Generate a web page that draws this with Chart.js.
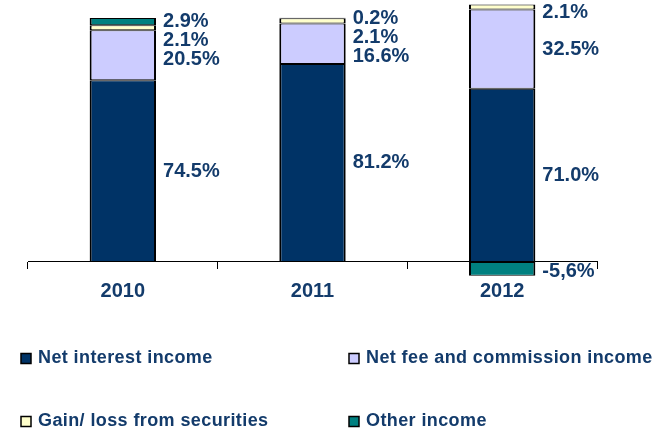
<!DOCTYPE html>
<html>
<head>
<meta charset="utf-8">
<script src="https://cdn.jsdelivr.net/npm/chart.js@4.4.1/dist/chart.umd.min.js"></script>
<style>
    html, body { margin: 0; padding: 0; background: #ffffff; }
    #grafico_receitas { display: block; }
</style>
</head>
<body>
<canvas id="grafico_receitas" width="668" height="431"></canvas>
<script>
// receitas por ano, em % do total
var anos = ["2010", "2011", "2012"];
var jurosLiquidos = [74.5, 81.2, 71.0];
var comissoes = [20.5, 16.6, 32.5];
var ganhoTitulos = [2.1, 2.1, 2.1];
var outrasReceitas = [2.9, 0.2, -5.6];

var nomesSeries = ["Net interest income", "Net fee and commission income", "Gain/ loss from securities", "Other income"];
var coresSeries = ["#003366", "#CCCCFF", "#FFFFCC", "#008080"];
var corTexto = "#133b6b";
var fonte = '"Liberation Sans", Arial, sans-serif';

function formataValor(v) {
    var txt = v.toFixed(1) + "%";
    // negativos aparecem com virgula decimal
    if (v < 0) txt = txt.replace(".", ",");
    return txt;
}

// rotulos a direita de cada barra, empurrados para baixo quando encostam
var rotulosPlugin = {
    id: 'rotulos',
    afterDatasetsDraw: function (chart) {
        var ctx = chart.ctx;
        ctx.save();
        ctx.font = "bold 20px " + fonte;
        ctx.fillStyle = corTexto;
        ctx.textAlign = "left";
        ctx.textBaseline = "middle";

        for (var j = 0; j < anos.length; j++) {
            var positivos = [];
            chart.data.datasets.forEach(function (ds, i) {
                var barra = chart.getDatasetMeta(i).data[j];
                var v = ds.data[j];
                var item = { x: barra.x + barra.width / 2 + 7, y: (barra.y + barra.base) / 2, v: v };
                if (v >= 0) {
                    positivos.push(item);
                } else {
                    ctx.fillText(formataValor(v), item.x, item.y + 3);
                }
            });
            positivos.sort(function (a, b) { return a.y - b.y; });
            var ultimo = -100;
            positivos.forEach(function (p) {
                p.y = Math.max(p.y, ultimo + 19, 12);
                ultimo = p.y;
                ctx.fillText(formataValor(p.v), p.x, p.y);
            });
        }
        ctx.restore();
    }
};

// legenda em duas colunas embaixo do grafico
var legendaPlugin = {
    id: 'legenda2col',
    afterDraw: function (chart) {
        var ctx = chart.ctx;
        var colunas = [21, 349];
        var linhas = [358.5, 421.5];
        ctx.save();
        ctx.font = "bold 18px " + fonte;
        ctx.letterSpacing = "0.4px";
        ctx.textAlign = "left";
        ctx.textBaseline = "middle";
        for (var i = 0; i < nomesSeries.length; i++) {
            var x = colunas[i % 2];
            var y = linhas[Math.floor(i / 2)];
            ctx.fillStyle = coresSeries[i];
            ctx.fillRect(x, y - 5, 10, 10);
            ctx.strokeStyle = "#000000";
            ctx.lineWidth = 1.5;
            ctx.strokeRect(x, y - 5, 10, 10);
            ctx.fillStyle = corTexto;
            ctx.fillText(nomesSeries[i], x + 17, y);
        }
        ctx.restore();
    }
};

var series = [jurosLiquidos, comissoes, ganhoTitulos, outrasReceitas];

var graficoReceitas = new Chart(document.getElementById('grafico_receitas').getContext('2d'), {
    type: 'bar',
    data: {
        labels: anos,
        datasets: series.map(function (dados, i) {
            return {
                label: nomesSeries[i],
                data: dados,
                backgroundColor: coresSeries[i],
                borderColor: "#000000",
                borderWidth: { left: 2, right: 2, top: 1, bottom: 1 },
                borderSkipped: false,
                barPercentage: 0.35,
                categoryPercentage: 1.0
            };
        })
    },
    options: {
        responsive: false,
        animation: false,
        layout: {
            padding: { top: 1, left: 28, right: 71, bottom: 149.5 }
        },
        plugins: {
            legend: { display: false },
            tooltip: { enabled: false }
        },
        scales: {
            x: {
                stacked: true,
                position: { y: 0 },
                grid: {
                    display: true,
                    offset: true,
                    drawOnChartArea: false,
                    drawTicks: true,
                    tickLength: 7,
                    color: "#000000",
                    lineWidth: 1
                },
                border: { display: true, color: "#000000", width: 1 },
                ticks: {
                    color: corTexto,
                    padding: 10,
                    font: { family: fonte, size: 20, weight: 'bold' }
                }
            },
            y: {
                stacked: true,
                display: false,
                min: -8,
                max: 107
            }
        }
    },
    plugins: [rotulosPlugin, legendaPlugin]
});
</script>
</body>
</html>
